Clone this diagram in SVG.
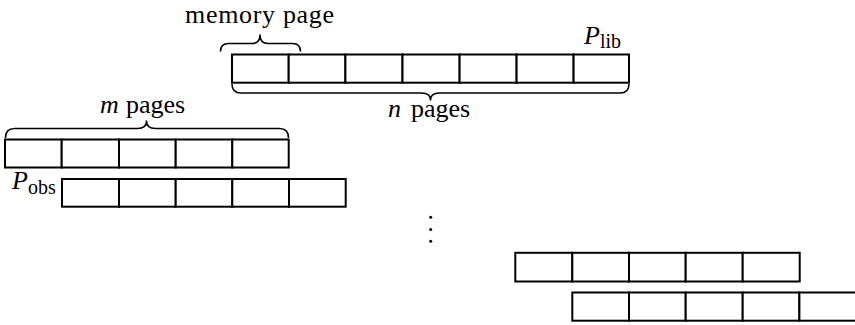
<svg xmlns="http://www.w3.org/2000/svg" width="855" height="325" viewBox="0 0 855 325">
<style>
.cell{fill:#fff;stroke:#000;stroke-width:2}
.brace{fill:none;stroke:#000;stroke-width:1.6;stroke-linejoin:round}
.lbl{font-family:"Liberation Serif","Times New Roman",serif;font-size:26px;fill:#000}
.it{font-style:italic}
.sub{font-size:20px;font-style:normal}
</style>
<rect width="855" height="325" fill="#fff"/>
<g id="row-lib">
<rect class="cell" x="232" y="54.5" width="56.7" height="28.2"/>
<rect class="cell" x="288.7" y="54.5" width="56.7" height="28.2"/>
<rect class="cell" x="345.4" y="54.5" width="57.1" height="28.2"/>
<rect class="cell" x="402.5" y="54.5" width="57.1" height="28.2"/>
<rect class="cell" x="459.6" y="54.5" width="57" height="28.2"/>
<rect class="cell" x="516.6" y="54.5" width="57" height="28.2"/>
<rect class="cell" x="573.6" y="54.5" width="55.4" height="28.2"/>
</g>
<g id="row-obs1">
<rect class="cell" x="5" y="139.5" width="56.7" height="28"/>
<rect class="cell" x="61.7" y="139.5" width="57.3" height="28"/>
<rect class="cell" x="119" y="139.5" width="56.7" height="28"/>
<rect class="cell" x="175.7" y="139.5" width="56.6" height="28"/>
<rect class="cell" x="232.3" y="139.5" width="56.4" height="28"/>
</g>
<g id="row-obs2">
<rect class="cell" x="62" y="179" width="57" height="27.7"/>
<rect class="cell" x="119" y="179" width="56.7" height="27.7"/>
<rect class="cell" x="175.7" y="179" width="56.6" height="27.7"/>
<rect class="cell" x="232.3" y="179" width="56.7" height="27.7"/>
<rect class="cell" x="289" y="179" width="56.7" height="27.7"/>
</g>
<g id="row-4">
<rect class="cell" x="515.3" y="252.8" width="57" height="28.7"/>
<rect class="cell" x="572.3" y="252.8" width="56.7" height="28.7"/>
<rect class="cell" x="629" y="252.8" width="56.7" height="28.7"/>
<rect class="cell" x="685.7" y="252.8" width="57" height="28.7"/>
<rect class="cell" x="742.7" y="252.8" width="57" height="28.7"/>
</g>
<g id="row-5">
<rect class="cell" x="572.3" y="292.5" width="56.7" height="28.2"/>
<rect class="cell" x="629" y="292.5" width="56.7" height="28.2"/>
<rect class="cell" x="685.7" y="292.5" width="57" height="28.2"/>
<rect class="cell" x="742.7" y="292.5" width="56.7" height="28.2"/>
<rect class="cell" x="799.4" y="292.5" width="57" height="28.2"/>
</g>
<g id="ellipsis">
<circle cx="430.7" cy="217.3" r="1.5"/>
<circle cx="430.7" cy="229.5" r="1.5"/>
<circle cx="430.7" cy="241.2" r="1.5"/>
</g>
<g id="braces">
<path class="brace" d="M220.5 51.5 Q220.5 43.5 228.5 43.5 L252 43.5 Q260 43.5 260 35 Q260 43.5 268 43.5 L292.5 43.5 Q300.5 43.5 300.5 51.5"/>
<path class="brace" d="M232 84 Q232 93 241 93 L421.5 93 Q430.5 93 430.5 100 Q430.5 93 439.5 93 L620 93 Q629 93 629 84"/>
<path class="brace" d="M5.5 138 Q5.5 128.5 14.5 128.5 L137.5 128.5 Q146.5 128.5 146.5 121 Q146.5 128.5 155.5 128.5 L279.5 128.5 Q288.5 128.5 288.5 138"/>
</g>
<g id="labels">
<text class="lbl" x="185" y="23" textLength="149" lengthAdjust="spacing">memory page</text>
<text class="lbl" x="584" y="43.5"><tspan class="it">P</tspan><tspan class="sub" dx="0" dy="4.5">lib</tspan></text>
<text class="lbl" x="388" y="117"><tspan class="it">n</tspan><tspan x="411">pages</tspan></text>
<text class="lbl" x="100" y="113"><tspan class="it">m</tspan><tspan x="126">pages</tspan></text>
<text class="lbl" x="12" y="189"><tspan class="it">P</tspan><tspan class="sub" dx="0" dy="4.5">obs</tspan></text>
</g>
</svg>
